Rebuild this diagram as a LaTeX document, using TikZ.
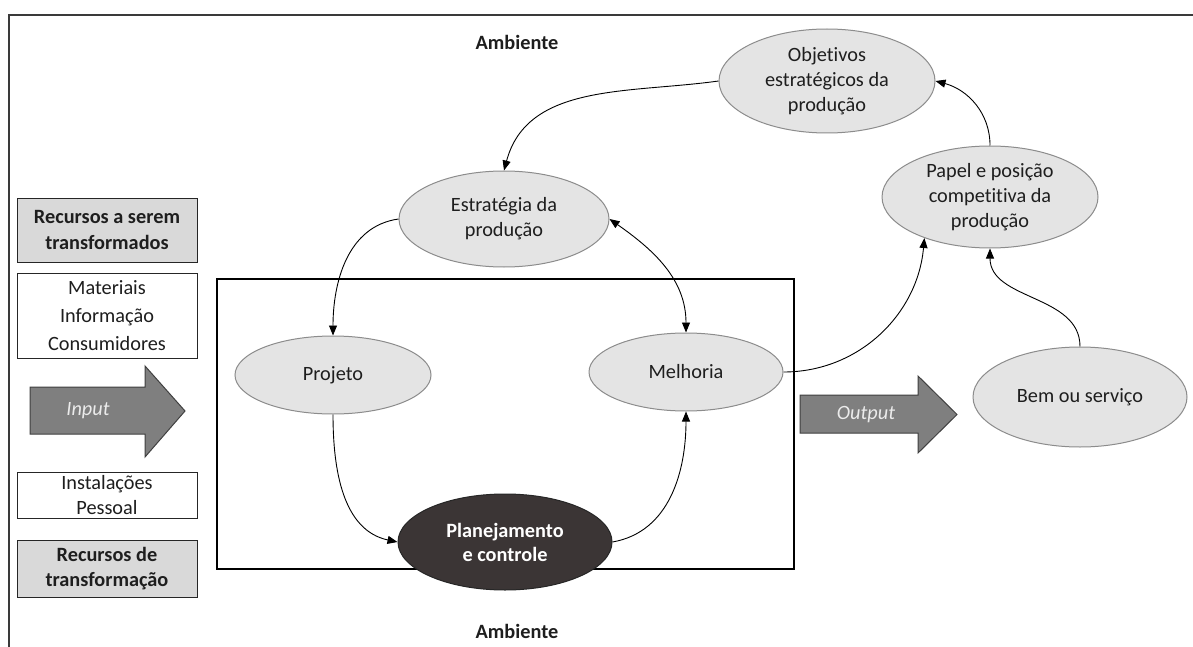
\documentclass[tikz,border=0pt]{standalone}
\usepackage{fontspec}
\setmainfont{Carlito}[Ligatures=NoCommon]
\usetikzlibrary{shapes.geometric,arrows.meta}
\definecolor{ellfill}{HTML}{E4E4E4}
\definecolor{ellline}{HTML}{8C8C8C}
\definecolor{darkfill}{HTML}{3B3535}
\definecolor{boxfill}{HTML}{D9D9D9}
\definecolor{arrfill}{HTML}{7F7F7F}
\definecolor{arrline}{HTML}{404040}
\definecolor{txt}{HTML}{1E1E1E}
\definecolor{frame}{HTML}{3A3A3A}
\tikzset{
  basefont/.style={font=\fontsize{20.3}{25}\selectfont},
  oval/.style={ellipse, draw=ellline, line width=1pt, fill=ellfill, inner sep=0pt,
    align=center, text=txt, basefont},
  darkoval/.style={ellipse, draw=black!85, line width=1pt, fill=darkfill, inner sep=0pt,
    align=center, text=white, font=\fontsize{20.3}{24}\selectfont\bfseries},
  resbox/.style={rectangle, draw=black!85, line width=1pt, minimum width=180pt, inner sep=0pt,
    align=center, text=txt, font=\fontsize{20.3}{24.5}\selectfont},
  graybox/.style={resbox, fill=boxfill, font=\fontsize{20.3}{25.5}\selectfont\bfseries},
  bigarrow/.style={fill=arrfill, draw=arrline, line width=1pt, line join=miter},
  arrlabel/.style={text=white!92!black, font=\fontsize{20.3}{25}\selectfont\itshape},
  conn/.style={draw=black, line width=0.9pt, -{Triangle[length=10pt,width=8pt]}},
  label/.style={text=txt, font=\fontsize{20.3}{25}\selectfont\bfseries}
}
\begin{document}
\begin{tikzpicture}[x=1pt,y=-1pt]
\useasboundingbox (0,0) rectangle (1193,647);
\fill[white] (0,0) rectangle (1193,647);

% outer frame (open to the right and bottom)
\draw[frame, line width=1.6pt] (9,647) -- (9,15) -- (1193,15);

% the operation box
\draw[black, line width=1.2pt] (217,279) rectangle (794,569);

% environment labels
\node[label] (ambtop) at (517,42) {Ambiente};
\node[label] (ambbot) at (517,631) {Ambiente};

% resources on the left
\node[graybox, minimum height=64pt] (rtrans) at (107,230) {Recursos a serem\\transformados};
\node[resbox, minimum height=85pt, font=\fontsize{20.3}{28}\selectfont] (mat) at (107,315.5) {Materiais\\Informação\\Consumidores};
\node[resbox, minimum height=46pt] (inst) at (107,495) {Instalações\\Pessoal};
\node[graybox, minimum height=57pt] (rdt) at (107,568.5) {Recursos de\\transformação};

% input and output block arrows
\draw[bigarrow] (30,387) -- (145,387) -- (145,366) -- (185,411) -- (145,457) -- (145,434) -- (30,434) -- cycle;
\node[arrlabel] (inp) at (88,411) {Input};
\draw[bigarrow] (800,395) -- (918,395) -- (918,376) -- (957,414.5) -- (918,453) -- (918,433) -- (800,433) -- cycle;
\node[arrlabel] (outp) at (866,415) {Output};

% process nodes
\node[oval, minimum width=216pt, minimum height=104pt] (obj) at (827,81) {Objetivos\\estratégicos da\\produção};
\node[oval, minimum width=216pt, minimum height=102pt] (pap) at (990,197) {Papel e posição\\competitiva da\\produção};
\node[oval, minimum width=210pt, minimum height=96pt] (est) at (504,219) {Estratégia da\\produção};
\node[oval, minimum width=196pt, minimum height=78pt] (proj) at (333,375) {Projeto};
\node[oval, minimum width=194pt, minimum height=78pt] (mel) at (686,372) {Melhoria};
\node[darkoval, minimum width=214pt, minimum height=96pt] (plan) at (505,542) {Planejamento\\e controle};
\node[oval, minimum width=214pt, minimum height=100pt] (bem) at (1080,397) {Bem ou serviço};

% connectors
\draw[conn] (obj.west) to[out=188, in=75] (est.north);
\draw[conn] (pap.north) to[out=90, in=-15] (obj.east);
\draw[conn] (est.west) to[out=188, in=90] (proj.north);
\draw[conn, {Triangle[length=10pt,width=8pt]}-{Triangle[length=10pt,width=8pt]}] (est.east) to[out=-35, in=90] (mel.north);
\draw[conn] (proj.south) to[out=-90, in=168] (plan.west);
\draw[conn] (plan.east) to[out=10, in=-90] (mel.south);
\draw[conn] (mel.east) to[out=0, in=-95] (pap.212);
\draw[conn] (bem.north) to[out=90, in=-90] (pap.south);
\end{tikzpicture}
\end{document}
